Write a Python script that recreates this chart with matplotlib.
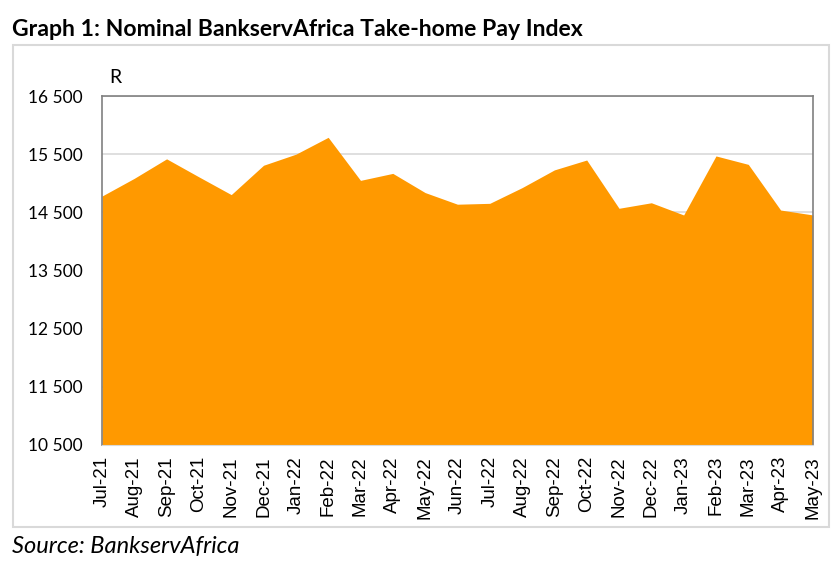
import matplotlib.pyplot as plt
from matplotlib.patches import Rectangle

months = ["Jul-21", "Aug-21", "Sep-21", "Oct-21", "Nov-21", "Dec-21", "Jan-22", "Feb-22",
          "Mar-22", "Apr-22", "May-22", "Jun-22", "Jul-22", "Aug-22", "Sep-22", "Oct-22",
          "Nov-22", "Dec-22", "Jan-23", "Feb-23", "Mar-23", "Apr-23", "May-23"]
pay_index = [14780, 15085, 15420, 15110, 14805, 15310, 15500, 15790,
             15050, 15170, 14840, 14640, 14655, 14925, 15230, 15400,
             14570, 14665, 14455, 15470, 15325, 14540, 14455]
y_ticks = [10500, 11500, 12500, 13500, 14500, 15500, 16500]
y_labels = ["10 500", "11 500", "12 500", "13 500", "14 500", "15 500", "16 500"]

fig = plt.figure(figsize=(8.33, 5.73), dpi=100)
ax = fig.add_axes([0.1224, 0.2234, 0.8535, 0.609])

x = list(range(len(months)))
ax.fill_between(x, 10500, pay_index, color="#FF9900", linewidth=0, zorder=2)

ax.set_xlim(0, len(months) - 1)
ax.set_ylim(10500, 16500)
ax.set_yticks(y_ticks)
ax.set_yticklabels(y_labels, fontsize=12.5, family="Lato")
ax.set_xticks(x)
ax.set_xticklabels(months, rotation=90, fontsize=13.5, family="Liberation Sans")
ax.tick_params(length=0, pad=8)
ax.tick_params(axis="y", pad=14)
ax.grid(axis="y", color="#D9D9D9", linewidth=1.2, zorder=1)
for side in ["left", "top", "right"]:
    ax.spines[side].set_color("#808080")
    ax.spines[side].set_linewidth(1.2)
ax.spines["bottom"].set_color("#D9D9D9")

ax.text(0.01, 1.03, "R", transform=ax.transAxes, fontsize=14, family="Lato", va="bottom")

# outer chart border
fig.patches.append(Rectangle((13 / 833, 1 - 527 / 573), 816 / 833, 482 / 573,
                             transform=fig.transFigure, fill=False,
                             edgecolor="#D9D9D9", linewidth=1.5))

fig.text(12 / 833, 1 - 30 / 573, "Graph 1: Nominal BankservAfrica Take-home Pay Index",
         fontsize=16.6, fontweight="bold", family="Lato", va="center")
fig.text(12 / 833, 1 - 546 / 573, "Source: BankservAfrica",
         fontsize=17, style="italic", family="Lato", va="center")

fig.savefig("out.png", dpi=100)
